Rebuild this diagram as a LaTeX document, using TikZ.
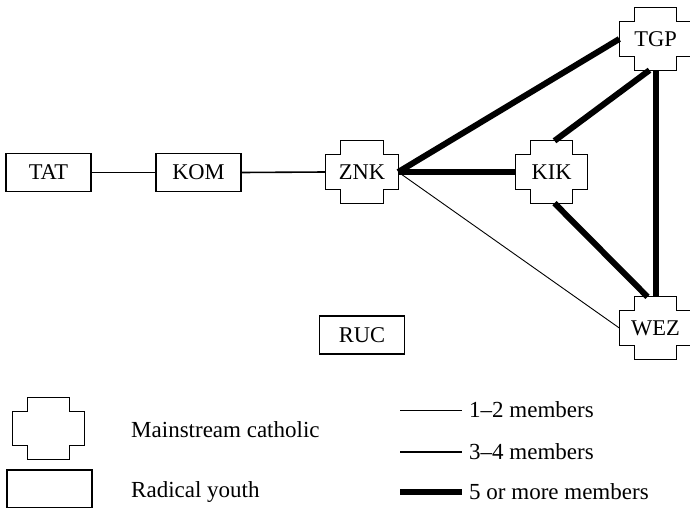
\documentclass[tikz,border=0pt]{standalone}
\usepackage{fontspec}
\setmainfont{Liberation Serif}
\begin{document}
\begin{tikzpicture}[x=1pt,y=1pt,
  lbl/.style={font=\fontsize{22.5}{26}\selectfont},
  keylbl/.style={font=\fontsize{23}{26}\selectfont},
  youth/.style={draw, line width=1.1pt, minimum width=85pt, minimum height=38pt, inner sep=0pt, lbl},
  catholic/.style={minimum width=72pt, minimum height=62pt, inner sep=0pt, lbl},
  crossline/.style={line width=1.1pt},
  few/.style={line width=0.9pt},
  some/.style={line width=1.6pt},
  many/.style={line width=6pt},
  legtext/.style={anchor=west, inner sep=0pt, keylbl},
]
\useasboundingbox (0,0) rectangle (690,507);

% organisations
\node[youth] (TAT) at (48.5,334.5) {TAT};
\node[youth] (KOM) at (198.5,334.5) {KOM};
\node[youth] (RUC) at (362,172) {RUC};
\node[catholic] (ZNK) at (362,335) {ZNK};
\node[catholic] (KIK) at (551.5,335) {KIK};
\node[catholic] (TGP) at (655.5,468) {TGP};
\node[catholic] (WEZ) at (655.5,179) {WEZ};

% legend symbols
\node[catholic] (legC) at (48.5,78.5) {};
\node[youth] (legR) at (49.5,18) {};
\node[legtext] (legCt) at (131,77) {Mainstream catholic};
\node[legtext] (legRt) at (131,15) {Radical youth};

% cross outlines
\foreach \n in {ZNK,KIK,TGP,WEZ,legC}{
  \draw[crossline] ([yshift=-14pt]\n.north west) -- ([xshift=15pt,yshift=-14pt]\n.north west)
    -- ([xshift=15pt]\n.north west) -- ([xshift=-15pt]\n.north east)
    -- ([xshift=-15pt,yshift=-14pt]\n.north east) -- ([yshift=-14pt]\n.north east)
    -- ([yshift=14pt]\n.south east) -- ([xshift=-15pt,yshift=14pt]\n.south east)
    -- ([xshift=-15pt]\n.south east) -- ([xshift=15pt]\n.south west)
    -- ([xshift=15pt,yshift=14pt]\n.south west) -- ([yshift=14pt]\n.south west) -- cycle;
}

% ties
\draw[some] (TAT.east) -- (KOM.west);
\draw[some] (KOM.east) -- (ZNK.west);
\draw[many] (ZNK.east) -- (KIK.west);
\draw[many] (ZNK.east) -- (TGP.west);
\draw[few] (ZNK.east) -- (WEZ.west);
\draw[many] ([xshift=3pt]KIK.north) -- ([xshift=-6pt]TGP.south);
\draw[many] ([xshift=3pt]KIK.south) -- ([xshift=-8pt]WEZ.north);
\draw[many] (TGP.south) -- (WEZ.north);

% legend for tie strength
\coordinate (k1a) at (400,97);  \coordinate (k1b) at (462,97);
\coordinate (k2a) at (400,55);  \coordinate (k2b) at (462,55);
\coordinate (k3a) at (400,15);  \coordinate (k3b) at (462,15);
\draw[few] (k1a) -- (k1b);
\draw[some] (k2a) -- (k2b);
\draw[many] (k3a) -- (k3b);
\node[legtext] (k1t) at (469,97) {1–2 members};
\node[legtext] (k2t) at (469,55) {3–4 members};
\node[legtext] (k3t) at (469,15) {5 or more members};
\end{tikzpicture}
\end{document}
